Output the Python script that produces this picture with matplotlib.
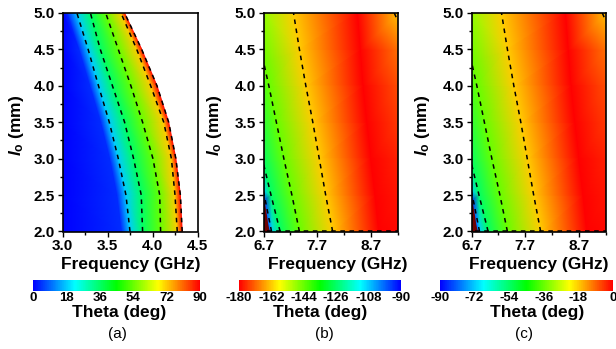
import numpy as np
import matplotlib
matplotlib.use("Agg")
import matplotlib.pyplot as plt
import matplotlib.tri as mtri
from matplotlib.colors import LinearSegmentedColormap
from matplotlib.ticker import AutoMinorLocator, FormatStrFormatter

plt.rcParams['font.family'] = ['Liberation Sans', 'DejaVu Sans']
plt.rcParams['font.weight'] = 'bold'
plt.rcParams['axes.unicode_minus'] = False
plt.rcParams['mathtext.fontset'] = 'custom'
plt.rcParams['mathtext.it'] = 'Liberation Sans:italic:bold'
plt.rcParams['mathtext.rm'] = 'Liberation Sans:bold'

# l_o rows (mm), bottom to top
rows = [2.0, 2.5, 3.0, 3.5, 4.0, 4.5, 5.0]

# ---- panel (a): frequency (GHz) where theta reaches each level, per row
a_levels = [0, 4, 18, 36, 54, 72, 90]
a_freq = [
    [3.00, 3.00, 3.00, 3.00, 3.00, 3.00, 3.00],
    [3.66, 3.61, 3.53, 3.43, 3.31, 3.19, 3.06],
    [3.75, 3.705, 3.62, 3.52, 3.40, 3.285, 3.16],
    [3.89, 3.875, 3.79, 3.69, 3.555, 3.42, 3.31],
    [4.09, 4.08, 4.005, 3.89, 3.76, 3.62, 3.48],
    [4.275, 4.25, 4.21, 4.125, 3.98, 3.825, 3.65],
    [4.33, 4.31, 4.26, 4.18, 4.05, 3.88, 3.69],
]
a_dashed = [18, 36, 54, 72, 90]

# ---- panels (b) and (c): contour positions (same in both pictures)
line1_f, line1_l = [6.85, 6.70], [2.0, 2.55]
line2_f, line2_l = [7.01, 6.84, 6.70], [2.0, 2.5, 2.93]
line3_f, line3_l = [7.37, 7.23, 7.08, 6.94, 6.80, 6.70], [2.0, 2.5, 3.0, 3.5, 4.0, 4.33]
line4_f, line4_l = [7.99, 7.86, 7.74, 7.62, 7.49, 7.37, 7.26], rows
corner_f, corner_l = [9.14, 9.20], [5.0, 4.9]
bottom_f, bottom_l = [6.76, 9.20], [2.0, 2.0]
ridge_f = [8.85, 8.78, 8.70, 8.62, 8.55, 8.50, 8.45]   # deepest red, per row
extra_f = [6.70, 6.70, 6.78, 6.70]                       # top-left and blue corner
extra_l = [5.0, 2.42, 2.0, 2.0]
wrap_f = [6.81, 6.78, 6.75, 6.71]                        # dark wrapped-phase patch
wrap_l = [2.0, 2.1, 2.25, 2.42]

b_lines = [-108, -126, -144, -162]
b_ridge = -180
b_right = [-179, -178, -177, -175, -173, -170, -163]
b_extra = [-148, -92, -92, -90]

c_lines = [-72, -54, -36, -18]
c_ridge = 0
c_right = [-1, -2, -3, -5, -7, -10, -17]
c_extra = [-32, -88, -88, -90]

rainbow = LinearSegmentedColormap.from_list(
    'rb', [(0, '#0000ff'), (0.25, '#00ffff'), (0.5, '#00ff00'),
           (0.75, '#ffff00'), (1, '#ff0000')])

W, H = 616, 349
fig = plt.figure(figsize=(W / 100, H / 100), dpi=100)


def px(x0, y0, x1, y1):
    return [x0 / W, 1 - y1 / H, (x1 - x0) / W, (y1 - y0) / H]


def style(ax, xlim, xticks):
    ax.set_xlim(*xlim)
    ax.set_ylim(2.0, 5.0)
    ax.set_xticks(xticks)
    ax.set_yticks(np.arange(2.0, 5.01, 0.5))
    ax.xaxis.set_major_formatter(FormatStrFormatter('%.1f'))
    ax.yaxis.set_major_formatter(FormatStrFormatter('%.1f'))
    ax.xaxis.set_minor_locator(AutoMinorLocator(2))
    ax.yaxis.set_minor_locator(AutoMinorLocator(2))
    ax.tick_params(which='major', direction='out', length=3.5, width=1,
                   labelsize=11, pad=2)
    ax.tick_params(which='minor', direction='out', length=2, width=1)
    for s in ax.spines.values():
        s.set_linewidth(1.2)


def dashed(ax, f, l):
    ax.plot(f, l, color='k', lw=1.1, ls=(0, (3, 3)))


def bc_panel(ax, line_vals, ridge, right, extra, cmap, vmin, vmax):
    f = np.concatenate([line1_f, line2_f, line3_f, line4_f, ridge_f,
                        [9.2] * len(rows), extra_f])
    l = np.concatenate([line1_l, line2_l, line3_l, line4_l, rows, rows, extra_l])
    v = np.concatenate([[line_vals[0]] * len(line1_f), [line_vals[1]] * len(line2_f),
                        [line_vals[2]] * len(line3_f), [line_vals[3]] * len(line4_f),
                        [ridge] * len(rows), right, extra])
    tri = mtri.Triangulation(f, l)
    m = ax.tripcolor(tri, v, shading='gouraud', cmap=cmap, vmin=vmin, vmax=vmax)
    ax.fill_betweenx(wrap_l, 6.7, wrap_f, color='#6e0000', lw=0)
    for lf, ll in [(line1_f, line1_l), (line2_f, line2_l), (line3_f, line3_l),
                   (line4_f, line4_l), (corner_f, corner_l), (bottom_f, bottom_l)]:
        dashed(ax, lf, ll)
    style(ax, (6.7, 9.2), [6.7, 7.7, 8.7])
    return m


# panel (a): structured mesh, levels x rows
ax_a = fig.add_axes(px(62.5, 13, 197.5, 231.5))
nl, nr = len(a_levels), len(rows)
fa = np.concatenate(a_freq)
la = np.tile(rows, nl)
va = np.repeat(a_levels, nr)
tris = []
for k in range(nl - 1):
    for i in range(nr - 1):
        p = k * nr + i
        tris.append([p, p + nr, p + 1])
        tris.append([p + 1, p + nr, p + nr + 1])
ma = ax_a.tripcolor(mtri.Triangulation(fa, la, tris), va, shading='gouraud',
                    cmap=rainbow, vmin=0, vmax=90)
for lev, fr in zip(a_levels, a_freq):
    if lev in a_dashed:
        dashed(ax_a, fr, rows)
style(ax_a, (3.0, 4.5), [3.0, 3.5, 4.0, 4.5])

# panel (b)
ax_b = fig.add_axes(px(263.5, 13, 397.5, 231.5))
mb = bc_panel(ax_b, b_lines, b_ridge, b_right, b_extra, rainbow.reversed(), -180, -90)

# panel (c)
ax_c = fig.add_axes(px(471.5, 13, 605.5, 231.5))
mc = bc_panel(ax_c, c_lines, c_ridge, c_right, c_extra, rainbow, -90, 0)

# colorbars
cb_specs = [
    (ma, px(33, 279.5, 200, 290.5), [0, 18, 36, 54, 72, 90]),
    (mb, px(239, 279.5, 401, 290.5), [-180, -162, -144, -126, -108, -90]),
    (mc, px(440, 279.5, 613, 290.5), [-90, -72, -54, -36, -18, 0]),
]
for m, rect, ticks in cb_specs:
    cax = fig.add_axes(rect)
    cb = fig.colorbar(m, cax=cax, orientation='horizontal', ticks=ticks)
    cb.outline.set_visible(False)
    cax.tick_params(length=0, labelsize=9.5, pad=1)

# labels
xlab_x = [131, 338, 539]
ylab_x = [16, 215, 422]
theta_x = [119, 320, 537]
tag_x = [117, 324, 524]
for i, tag in enumerate(['(a)', '(b)', '(c)']):
    fig.text(xlab_x[i] / W, 1 - 264 / H, 'Frequency (GHz)', ha='center',
             va='center', fontsize=12.5)
    fig.text(ylab_x[i] / W, 1 - 125 / H, r'$l_{\mathrm{o}}$ (mm)', ha='center',
             va='center', rotation=90, fontsize=12.5)
    fig.text(theta_x[i] / W, 1 - 312 / H, 'Theta (deg)', ha='center',
             va='center', fontsize=12.5)
    fig.text(tag_x[i] / W, 1 - 334 / H, tag, ha='center', va='center',
             fontsize=11, fontweight='normal')

fig.savefig('out.png', dpi=100)
